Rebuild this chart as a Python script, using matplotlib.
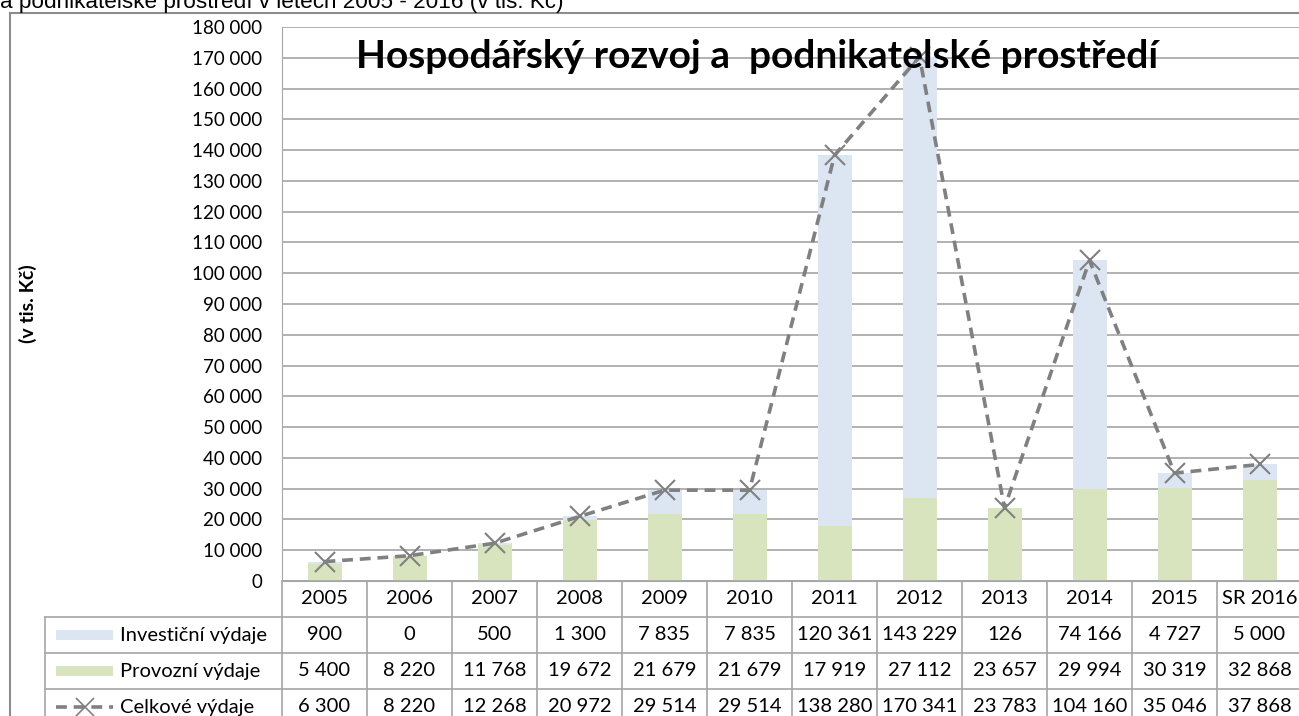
import matplotlib.pyplot as plt
from matplotlib.lines import Line2D
from matplotlib.patches import Rectangle
import numpy as np

# Data (v tis. Kč)
roky = ["2005", "2006", "2007", "2008", "2009", "2010",
        "2011", "2012", "2013", "2014", "2015", "SR 2016"]
investicni = [900, 0, 500, 1300, 7835, 7835, 120361, 143229, 126, 74166, 4727, 5000]
provozni = [5400, 8220, 11768, 19672, 21679, 21679, 17919, 27112, 23657, 29994, 30319, 32868]
celkove = [6300, 8220, 12268, 20972, 29514, 29514, 138280, 170341, 23783, 104160, 35046, 37868]

nazvy_rad = ["Investiční výdaje", "Provozní výdaje", "Celkové výdaje"]

BLUE = "#DCE6F2"
GREEN = "#D7E4BD"
LINE = "#808080"
GRID = "#ABABAB"
BORDER = "#A6A6A6"


def fmt(v):
    return f"{v:,}".replace(",", "\u00a0")


plt.rcParams['font.family'] = ['Lato', 'DejaVu Sans']

W, H = 1299, 716
fig = plt.figure(figsize=(W / 100, H / 100), dpi=100)

# layout in pixels
left_px, right_px = 282, 1302
top_px, zero_px = 27, 581
row_h = 36
label_left = 45

ax = fig.add_axes([left_px / W, (H - zero_px) / H,
                   (right_px - left_px) / W, (zero_px - top_px) / H])

x = np.arange(len(roky))
ax.bar(x, provozni, width=0.4, color=GREEN, zorder=2)
ax.bar(x, investicni, width=0.4, bottom=provozni, color=BLUE, zorder=2)
ax.plot(x, celkove, color=LINE, lw=2.6, linestyle=(0, (3, 1.9)),
        marker='x', markersize=14, markeredgewidth=1.5, zorder=3)

ax.set_xlim(-0.5, len(roky) - 0.5)
ax.set_ylim(0, 180000)
yt = np.arange(0, 180001, 10000)
ax.set_yticks(yt)
ax.set_yticklabels([fmt(v) for v in yt], fontsize=13.5)
ax.tick_params(axis='y', length=0, pad=14)
ax.set_xticks([])
ax.yaxis.grid(True, color=GRID, lw=1.3, zorder=0)
ax.set_axisbelow(True)
for s in ["top", "right"]:
    ax.spines[s].set_visible(False)
ax.spines["left"].set_color(BORDER)
ax.spines["bottom"].set_color(BORDER)

ax.text((757 - left_px) / (right_px - left_px), 1 - (68 - top_px) / (zero_px - top_px),
        "Hospodářský rozvoj a  podnikatelské prostředí",
        transform=ax.transAxes, ha='center', va='baseline',
        fontsize=28, fontweight='bold')

# y label and partially cut caption above chart
fig.text(28 / W, 1 - 304 / H, "(v tis. Kč)", rotation=90, ha='center',
         va='center', fontsize=14, fontweight='bold')
fig.text(0, 1 - 8 / H, "a podnikatelské prostředí v letech 2005 - 2016 (v tis. Kč)",
         ha='left', va='baseline', fontsize=16.2, family='Liberation Sans')

# outer frame (left and top edge visible)
fig.add_artist(Line2D([10 / W, 10 / W], [0, 1 - 13 / H], transform=fig.transFigure,
                      color="#8C8C8C", lw=1.5))
fig.add_artist(Line2D([10 / W, 1], [1 - 13 / H, 1 - 13 / H], transform=fig.transFigure,
                      color="#8C8C8C", lw=1.5))

# data table below the chart
col_w = (right_px - left_px) / len(roky)
x_lab = -0.5 - (left_px - label_left) / col_w
bottom_px = zero_px + 4 * row_h
axt = fig.add_axes([label_left / W, (H - bottom_px) / H,
                    (right_px - label_left) / W, 4 * row_h / H])
axt.set_xlim(x_lab, len(roky) - 0.5)
axt.set_ylim(4, 0)
axt.axis('off')

for r in range(5):
    x0 = -0.5 if r == 0 else x_lab
    axt.plot([x0, len(roky) - 0.5], [r, r], color=BORDER, lw=1.2, clip_on=False)
for i in range(len(roky) + 1):
    axt.plot([i - 0.5, i - 0.5], [0, 4], color=BORDER, lw=1.2, clip_on=False)
axt.plot([x_lab, x_lab], [1, 4], color=BORDER, lw=1.2, clip_on=False)

for i, rok in enumerate(roky):
    axt.text(i, 0.5, rok, ha='center', va='center', fontsize=14.5)
for r, vals in enumerate([investicni, provozni, celkove], start=1):
    for i, v in enumerate(vals):
        axt.text(i, r + 0.5, fmt(v), ha='center', va='center', fontsize=14.5)

# row labels with legend keys
key_x0 = x_lab + 11 / col_w
key_x1 = x_lab + 68 / col_w
for r, (nazev, col) in enumerate(zip(nazvy_rad, [BLUE, GREEN, None]), start=1):
    if col is not None:
        axt.add_patch(Rectangle((key_x0, r + 0.36), key_x1 - key_x0, 0.28,
                                facecolor=col, edgecolor='none'))
    else:
        axt.plot([key_x0, key_x1], [r + 0.5, r + 0.5], color=LINE, lw=2.6,
                 linestyle=(0, (3, 1.9)))
        axt.plot([(key_x0 + key_x1) / 2], [r + 0.5], color=LINE, marker='x',
                 markersize=13, markeredgewidth=1.2, lw=0)
    axt.text(x_lab + 75 / col_w, r + 0.5, nazev, ha='left', va='center', fontsize=14.5)

fig.savefig("out.png", dpi=100)
